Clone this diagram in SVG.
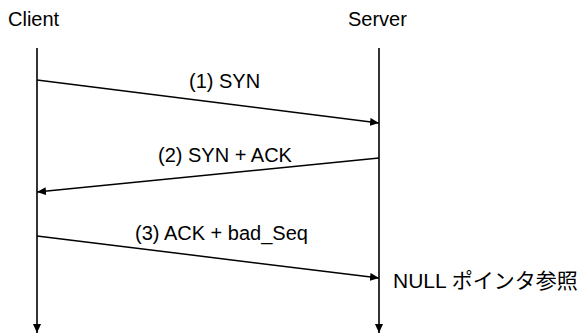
<svg xmlns="http://www.w3.org/2000/svg" width="581" height="336" viewBox="0 0 581 336">
  <defs>
    <marker id="arrow" markerWidth="9" markerHeight="8" refX="9" refY="4" orient="auto" markerUnits="userSpaceOnUse">
      <path d="M0,0 L9,4 L0,8 Z" fill="#000"/>
    </marker>
  </defs>
  <style>
    text { font-family: "Liberation Sans", "Noto Sans CJK JP", sans-serif; font-size: 20px; fill: #000; }
    .note { font-size: 21px; }
    .life { stroke: #000; stroke-width: 1.6; fill: none; }
    .msg { stroke: #000; stroke-width: 1.5; fill: none; }
  </style>
  <rect width="581" height="336" fill="#fff"/>

  <!-- participants with their lifelines -->
  <g id="client">
    <text x="8" y="26">Client</text>
    <line class="life" x1="37" y1="48" x2="37" y2="333" marker-end="url(#arrow)"/>
  </g>
  <g id="server">
    <text x="348" y="26">Server</text>
    <line class="life" x1="379" y1="48" x2="379" y2="333" marker-end="url(#arrow)"/>
    <text class="note" x="393" y="288">NULL ポインタ参照</text>
  </g>

  <!-- handshake messages -->
  <g id="connectors">
    <line class="msg" x1="37" y1="80" x2="379" y2="123" marker-end="url(#arrow)"/>
    <text x="189" y="88">(1) SYN</text>
    <line class="msg" x1="379" y1="158" x2="37" y2="192" marker-end="url(#arrow)"/>
    <text x="158" y="162">(2) SYN + ACK</text>
    <line class="msg" x1="37" y1="236" x2="379" y2="278" marker-end="url(#arrow)"/>
    <text x="135" y="240">(3) ACK + bad_Seq</text>
  </g>
</svg>
